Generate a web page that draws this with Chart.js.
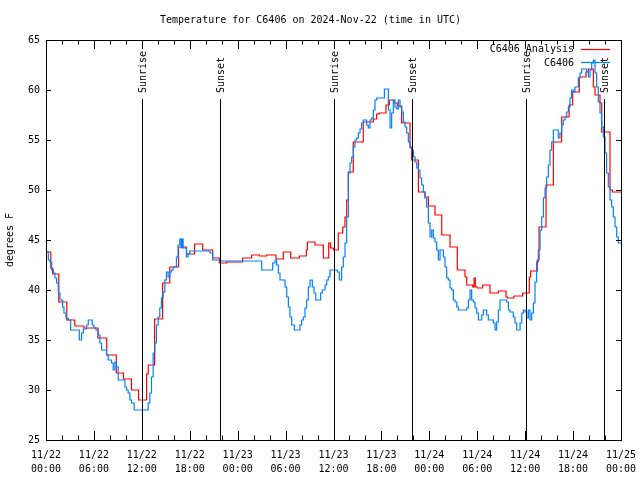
<!DOCTYPE html>
<html>
<head>
<meta charset="utf-8">
<script src="https://cdn.jsdelivr.net/npm/chart.js@4.4.1/dist/chart.umd.min.js"></script>
<style>
  html, body { margin: 0; padding: 0; background: #fff; }
  #wrap { width: 640px; height: 480px; }
</style>
</head>
<body>
<div id="wrap"><canvas id="temp_graph" width="640" height="480"></canvas></div>
<script>
// hours since 11/22 00:00 UTC
let xTickLabels = [
  ['11/22','00:00'],['11/22','06:00'],['11/22','12:00'],['11/22','18:00'],
  ['11/23','00:00'],['11/23','06:00'],['11/23','12:00'],['11/23','18:00'],
  ['11/24','00:00'],['11/24','06:00'],['11/24','12:00'],['11/24','18:00'],
  ['11/25','00:00']
];
let sunHours = [12.06, 21.85, 36.1, 45.87, 60.14, 69.9];
let sunNames = ['Sunrise','Sunset','Sunrise','Sunset','Sunrise','Sunset'];

// C6406 Analysis (red)
let anaHours = [0,0.6,0.83,1.6,2.6,3.6,4.75,6.5,7.6,8.8,9.7,10.7,11.6,12.6,12.8,13.6,14.6,15.5,16.6,17.6,
  18.6,19.62,20.87,21.71,22.62,24.63,25.75,26.72,27.63,28.8,29.72,30.64,31.72,32.6,32.73,33.68,34.73,35.4,35.64,35.98,
  36.6,37.15,37.44,37.65,37.86,38.48,39.73,40.99,41.4,41.74,42.57,42.99,43.57,43.99,44.53,45.58,45.79,46.63,47.46,47.88,
  48.71,49.55,50.59,51.5,52.47,52.68,53.43,53.6,53.76,54.01,54.68,55.6,56.64,57.6,57.77,58.6,59.69,60.52,60.69,61.52,
  61.74,62.61,63.53,64.57,65.5,65.95,66.78,67.62,67.91,68.54,68.75,69.37,69.58,70.62,70.92,72];
let anaTemps = [43.8,42.2,41.6,38.8,37.0,36.4,36.2,35.2,33.5,31.7,31.1,30.0,29.0,31.6,32.5,37.1,40.7,42.3,44.3,43.6,
  44.6,44.0,43.2,42.7,42.8,43.2,43.5,43.4,43.5,43.1,43.8,43.2,43.4,44.0,44.8,44.5,43.2,44.7,44.2,44.0,
  45.7,46.3,47.3,49.0,51.8,54.8,56.8,57.1,57.6,57.7,58.5,59.0,58.7,58.4,56.7,54.2,53.0,49.8,49.3,48.4,
  47.5,45.5,44.3,42.0,41.3,40.5,40.3,41.2,40.3,40.2,40.5,39.7,39.9,39.3,39.2,39.4,39.7,41.3,41.9,43.0,
  46.3,50.5,54.8,57.3,58.5,59.8,61.3,61.8,62.1,60.3,59.5,58.7,55.8,50.0,49.8,49.8];

// C6406 observed (blue)
let obsHours = [0,0.29,0.5,0.71,0.92,1.12,1.33,1.54,1.75,2.08,2.25,2.5,2.79,3.08,4.17,4.46,4.67,5.08,5.29,5.79,
  6.0,6.25,6.54,6.75,6.96,7.58,7.79,8.21,8.42,8.63,8.83,9.04,9.88,10.08,10.29,10.5,10.71,11.04,12.79,13.0,
  13.21,13.42,13.63,13.83,14.04,14.25,14.46,14.67,14.88,15.08,15.29,15.5,15.71,15.92,16.33,16.54,16.75,16.92,17.04,17.17,
  17.58,17.79,18.0,20.53,20.87,21.79,27.01,28.38,28.68,28.88,29.09,29.3,29.93,30.14,30.35,30.55,30.76,31.1,31.8,32.01,
  32.22,32.43,32.64,32.85,33.06,33.35,33.56,33.77,34.39,34.6,34.94,35.15,35.35,35.56,36.48,36.73,37.02,37.23,37.44,37.65,
  37.86,38.07,38.28,38.48,38.69,38.9,39.11,39.32,39.53,39.74,40.15,40.36,40.57,40.78,40.99,41.2,41.41,42.37,42.87,43.08,
  43.28,43.49,43.7,43.91,44.12,44.33,44.54,44.75,44.96,45.16,45.37,45.58,45.79,46.0,46.21,46.42,46.63,46.83,47.04,47.25,
  47.46,47.67,47.88,48.09,48.3,48.5,48.71,48.92,49.13,49.34,49.76,49.96,50.17,50.38,50.59,50.8,51.01,51.22,51.43,51.63,
  52.68,52.89,53.1,53.3,53.51,53.72,53.93,54.14,54.56,54.77,55.18,55.39,56.02,56.23,56.43,56.64,56.85,57.69,57.9,58.1,
  58.52,58.73,58.94,59.36,59.57,59.77,59.98,60.19,60.4,60.61,60.82,61.03,61.23,61.44,61.65,61.86,62.07,62.28,62.49,62.7,
  62.9,63.11,63.32,63.53,64.15,64.36,64.57,64.78,64.99,65.2,65.41,65.62,65.82,66.03,66.24,66.66,66.87,67.08,67.7,67.91,
  68.12,68.33,68.54,68.75,68.95,69.16,69.37,69.58,69.79,70.0,70.2,70.41,70.62,70.83,71.04,71.25,71.46,71.67,72];
let obsTemps = [43.8,43.0,42.8,42.0,41.7,41.2,40.7,39.7,39.0,38.3,37.7,37.2,37.0,36.0,35.0,35.7,36.1,36.5,37.0,36.5,
  36.2,36.0,35.5,34.7,34.0,33.5,33.0,32.7,32.0,32.8,32.3,31.0,30.3,30.0,29.7,29.0,28.7,28.0,28.7,29.7,
  31.3,33.7,34.7,36.5,37.3,38.2,39.2,39.8,41.0,41.8,41.3,41.8,42.0,42.3,43.3,44.5,45.1,44.2,45.1,44.2,
  43.3,43.6,43.9,43.7,43.0,42.9,42.0,42.7,43.0,42.5,41.7,41.0,40.3,39.3,38.3,37.3,36.5,36.0,36.5,37.0,
  37.3,38.2,39.0,40.3,41.0,40.3,39.7,39.0,39.7,40.0,40.5,41.0,41.3,42.0,41.8,41.0,42.3,43.3,44.7,47.3,
  51.7,52.7,53.3,54.3,55.0,55.2,55.7,56.1,56.7,57.0,56.5,56.2,57.0,57.2,58.0,59.0,59.2,60.1,58.0,56.2,
  57.7,59.0,58.3,58.1,59.0,58.3,57.8,56.8,56.3,55.7,54.8,54.3,54.0,53.3,52.8,52.2,52.0,51.2,50.5,49.8,
  49.2,48.3,46.7,45.3,46.0,45.2,44.8,44.0,43.0,44.0,43.3,42.3,41.2,41.0,40.2,40.0,39.0,38.8,38.3,38.0,
  38.2,39.0,40.0,39.0,38.8,38.2,37.7,37.0,37.5,38.0,37.5,37.0,36.7,36.0,36.8,38.0,39.0,38.8,38.0,37.8,
  37.3,36.7,36.0,36.7,37.7,38.0,37.8,37.2,38.0,37.0,37.7,38.7,40.8,42.8,44.0,46.0,47.3,49.2,50.2,51.3,
  52.5,54.0,54.8,56.0,55.2,55.7,56.5,57.0,57.3,57.8,58.3,59.2,60.0,59.8,60.3,61.2,61.7,62.1,61.8,61.3,
  62.0,62.7,63.0,61.7,60.3,58.8,57.7,56.3,55.3,53.7,51.7,50.3,49.0,48.3,47.3,46.3,45.3,44.7,44.7];

const FONT = 'DejaVu Sans Mono';

let ana_points = [];
let obs_points = [];
for (let i = 0; i < anaHours.length; i++) {
  ana_points.push({x: anaHours[i], y: anaTemps[i]});
}
for (let i = 0; i < obsHours.length; i++) {
  obs_points.push({x: obsHours[i], y: obsTemps[i]});
}

// frame, inward tics, sunrise/sunset markers and the key, gnuplot style
const gnuplotBits = {
  id: 'gnuplotBits',
  afterDatasetsDraw(chart) {
    const ctx = chart.ctx;
    const a = chart.chartArea;
    const xs = chart.scales.x;
    const ys = chart.scales.y;
    ctx.save();
    ctx.strokeStyle = '#000';
    ctx.lineWidth = 1;

    // sunrise / sunset lines
    ctx.font = '10px ' + FONT;
    ctx.fillStyle = '#000';
    for (let i = 0; i < sunHours.length; i++) {
      const px = Math.round(xs.getPixelForValue(sunHours[i])) + 0.5;
      ctx.beginPath();
      ctx.moveTo(px, 99);
      ctx.lineTo(px, a.bottom);
      ctx.stroke();
      ctx.save();
      ctx.translate(px + 1, 93);
      ctx.rotate(-Math.PI / 2);
      ctx.textAlign = 'left';
      ctx.textBaseline = 'middle';
      ctx.fillText(sunNames[i], 0, 0);
      ctx.restore();
    }

    // x tics: major every 6h, minor every 2h
    ctx.beginPath();
    for (let h = 0; h <= 72; h += 2) {
      const px = Math.round(xs.getPixelForValue(h)) + 0.5;
      const len = (h % 6 === 0) ? 9 : 4.5;
      ctx.moveTo(px, a.bottom); ctx.lineTo(px, a.bottom - len);
      ctx.moveTo(px, a.top); ctx.lineTo(px, a.top + len);
    }
    // y tics
    for (let t = 25; t <= 65; t += 5) {
      const py = Math.round(ys.getPixelForValue(t)) + 0.5;
      ctx.moveTo(a.left, py); ctx.lineTo(a.left + 5, py);
      ctx.moveTo(a.right, py); ctx.lineTo(a.right - 5, py);
    }
    ctx.stroke();

    // frame
    ctx.strokeRect(Math.round(a.left) + 0.5, Math.round(a.top) + 0.5,
      Math.round(a.right - a.left), Math.round(a.bottom - a.top));

    // key
    ctx.textAlign = 'right';
    ctx.textBaseline = 'middle';
    ctx.fillStyle = '#000';
    ctx.fillText('C6406 Analysis', 574, 49);
    ctx.fillText('C6406', 574, 63);
    ctx.lineWidth = 1.2;
    ctx.strokeStyle = '#ff0000';
    ctx.beginPath(); ctx.moveTo(581, 49.5); ctx.lineTo(610, 49.5); ctx.stroke();
    ctx.strokeStyle = '#0080ff';
    ctx.beginPath(); ctx.moveTo(581, 62.5); ctx.lineTo(610, 62.5); ctx.stroke();
    ctx.restore();
  }
};

const graph = document.getElementById('temp_graph').getContext('2d');

new Chart(graph, {
  type: 'line',
  data: {
    datasets: [{
      label: 'C6406 Analysis',
      data: ana_points,
      borderColor: '#ff0000',
      borderWidth: 1.2,
      pointRadius: 0,
      stepped: 'before',
      order: 2
    }, {
      label: 'C6406',
      data: obs_points,
      borderColor: '#0080ff',
      borderWidth: 1.2,
      pointRadius: 0,
      stepped: 'before',
      order: 1
    }]
  },
  options: {
    responsive: false,
    animation: false,
    events: [],
    layout: { padding: { left: 0, right: 19, top: 0, bottom: 0 } },
    plugins: {
      legend: { display: false },
      tooltip: { enabled: false },
      title: {
        display: true,
        text: 'Temperature for C6406 on 2024-Nov-22 (time in UTC)',
        color: '#000',
        font: { family: FONT, size: 10, weight: 'normal', lineHeight: 1.2 },
        padding: { top: 14, bottom: 14 }
      }
    },
    scales: {
      x: {
        type: 'linear',
        min: 0,
        max: 72,
        afterFit: (scale) => {
          scale.height = 40;
          scale.paddingLeft = 0;
          scale.paddingRight = 0;
        },
        grid: { display: false, drawTicks: false },
        border: { display: false },
        ticks: {
          stepSize: 6,
          autoSkip: false,
          maxRotation: 0,
          padding: 8,
          color: '#000',
          font: { family: FONT, size: 10, lineHeight: 1.4 },
          callback: (v) => xTickLabels[Math.round(v / 6)]
        }
      },
      y: {
        min: 25,
        max: 65,
        afterFit: (scale) => {
          scale.width = 46;
          scale.paddingTop = 0;
          scale.paddingBottom = 0;
        },
        grid: { display: false, drawTicks: false },
        border: { display: false },
        ticks: {
          stepSize: 5,
          padding: 6,
          color: '#000',
          font: { family: FONT, size: 10 }
        },
        title: {
          display: true,
          text: 'degrees F',
          color: '#000',
          font: { family: FONT, size: 10 },
          padding: { top: 4, bottom: 0 }
        }
      }
    }
  },
  plugins: [gnuplotBits]
});
</script>
</body>
</html>
